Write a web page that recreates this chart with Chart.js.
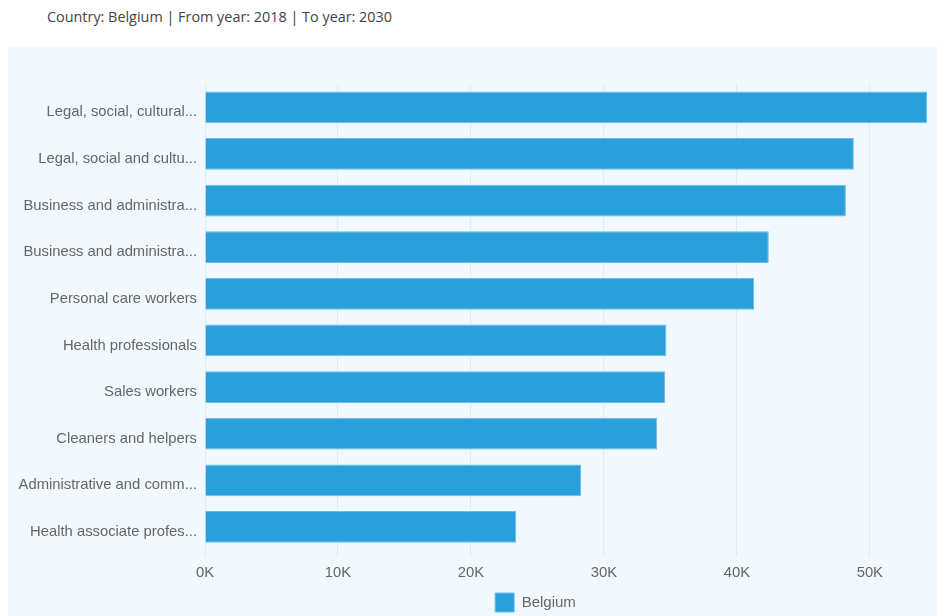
<!DOCTYPE html>
<html>
<head>
<meta charset="utf-8">
<script src="https://cdn.jsdelivr.net/npm/chart.js@4"></script>
<style>
  body { margin: 0; background: #fff; width: 937px; height: 616px; overflow: hidden; position: relative; }
  #title { position: absolute; left: 47px; top: 7px; font: 14.4px "Open Sans", sans-serif; color: #444; }
  #panel { position: absolute; left: 8px; top: 47px; width: 929px; height: 575px; background: #f1f8fe; }
</style>
</head>
<body>
<div id="title">Country: Belgium | From year: 2018 | To year: 2030</div>
<div id="panel"><canvas id="chart" width="929" height="575"></canvas></div>
<script>
const occupations = [
  "Legal, social, cultural...",
  "Legal, social and cultu...",
  "Business and administra...",
  "Business and administra...",
  "Personal care workers",
  "Health professionals",
  "Sales workers",
  "Cleaners and helpers",
  "Administrative and comm...",
  "Health associate profes..."
];
const belgium = [54300, 48800, 48200, 42400, 41300, 34700, 34600, 34000, 28300, 23400];
const xTicks = [0, 10000, 20000, 30000, 40000, 50000];

const blue = "#29a0dc";
const labelFont = { family: "Liberation Sans, Arial", size: 14.8 };

// legend sits a bit right of the canvas centre in the original
const legendShift = {
  id: "legendShift",
  afterLayout(chart) {
    chart.legend.left += 68;
    chart.legend.right += 68;
  }
};

const ctx = document.getElementById("chart").getContext("2d");
new Chart(ctx, {
  type: "bar",
  data: {
    labels: occupations,
    datasets: [{
      label: "Belgium",
      data: belgium,
      backgroundColor: blue,
      borderColor: "#6cbde8",
      borderWidth: 1,
      categoryPercentage: 0.68,
      barPercentage: 1
    }]
  },
  options: {
    indexAxis: "y",
    responsive: false,
    animation: false,
    layout: { padding: { left: 0, right: 10, top: 37, bottom: 0 } },
    scales: {
      x: {
        min: 0,
        max: Math.max(...belgium),
        afterBuildTicks: scale => { scale.ticks = xTicks.map(v => ({ value: v })); },
        grid: { color: "#dcedfa", tickLength: 7 },
        border: { display: false },
        ticks: {
          color: "#666",
          font: labelFont,
          padding: 7,
          callback: v => (v / 1000) + "K"
        }
      },
      y: {
        afterFit: scale => { scale.width = 197; },
        grid: { display: false, drawTicks: false },
        border: { display: false },
        ticks: {
          color: "#666",
          font: labelFont,
          padding: 8,
          labelOffset: 5
        }
      }
    },
    plugins: {
      legend: {
        position: "bottom",
        labels: {
          color: "#666",
          font: { family: "Liberation Sans, Arial", size: 15 },
          boxWidth: 19,
          boxHeight: 19,
          padding: 4
        }
      },
      tooltip: { enabled: false }
    }
  },
  plugins: [legendShift]
});
</script>
</body>
</html>
